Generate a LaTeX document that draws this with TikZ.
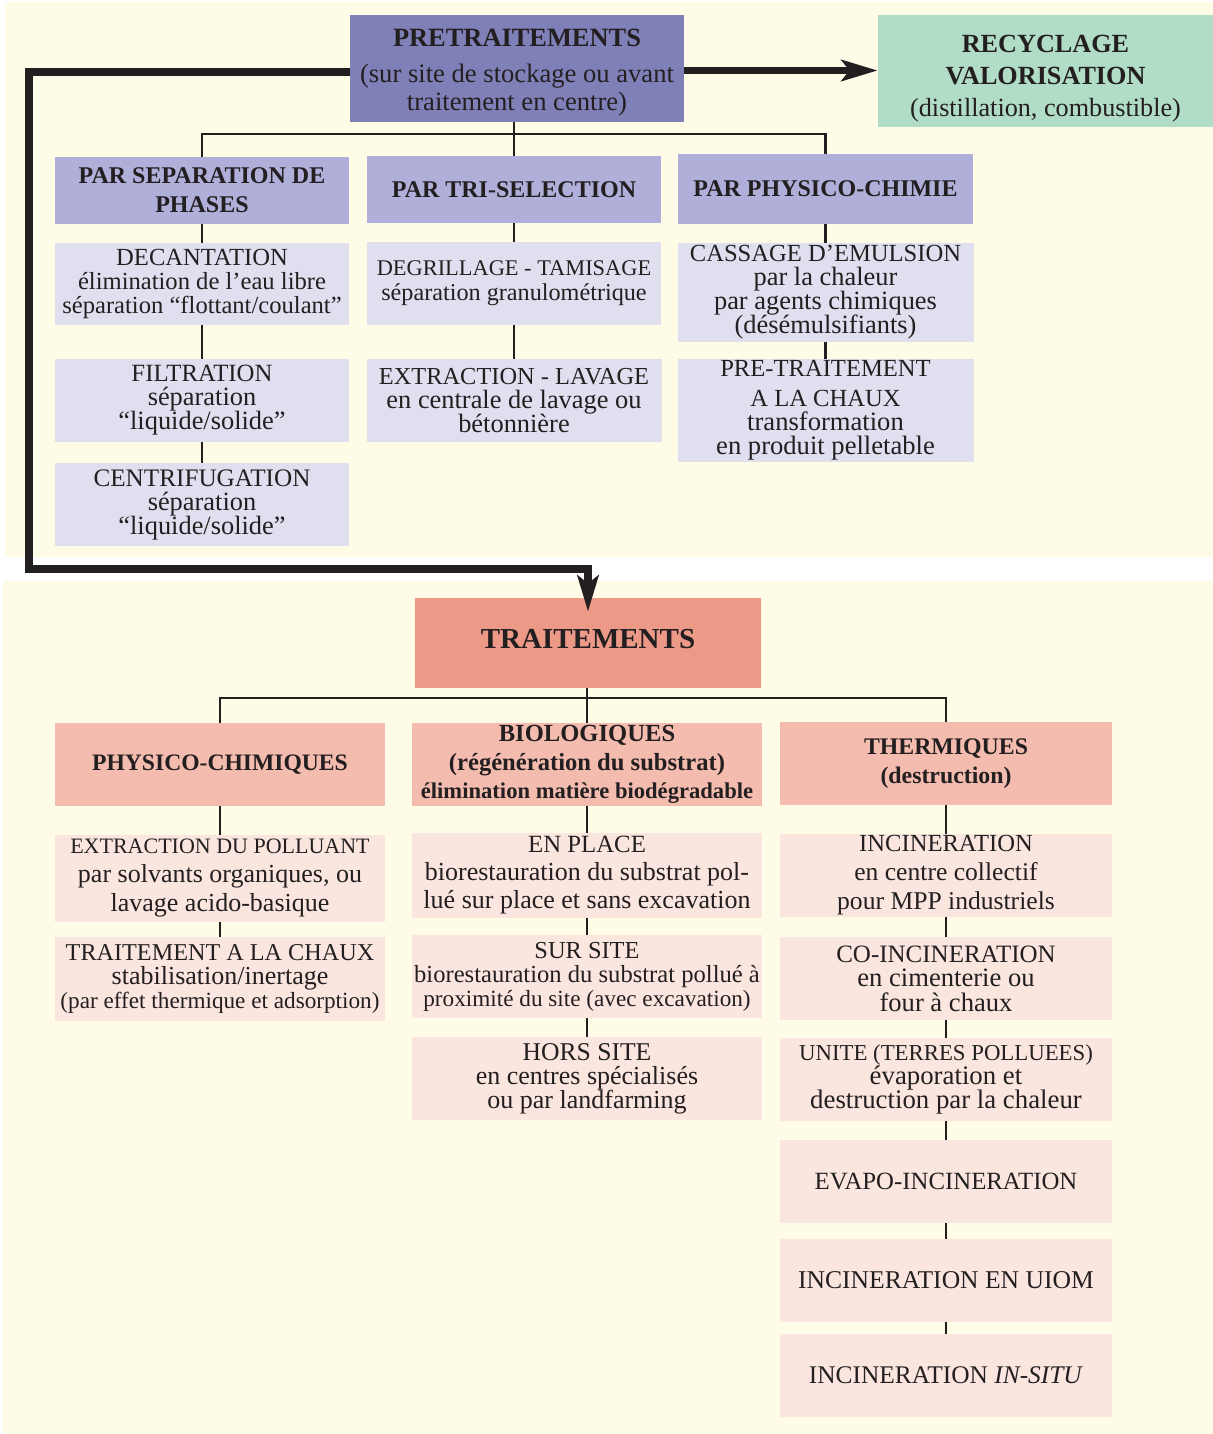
\documentclass[tikz,border=0pt]{standalone}
\usepackage{fontspec}
\setmainfont{Liberation Serif}
\usetikzlibrary{arrows.meta,calc}
\definecolor{cream}{HTML}{FEFCE7}
\definecolor{preC}{HTML}{8080B8}
\definecolor{recC}{HTML}{B1DCC5}
\definecolor{lavA}{HTML}{AFAFD9}
\definecolor{lavB}{HTML}{DFDFEF}
\definecolor{traC}{HTML}{EC9988}
\definecolor{salA}{HTML}{F3BCAE}
\definecolor{salB}{HTML}{FAE5DF}
\definecolor{ink}{HTML}{231F20}
\newcommand{\txs}[2]{{\fontsize{#1}{#1}\selectfont #2}}
\lineskiplimit=-100pt
\lineskip=0pt
\tikzset{
  box/.style 2 args={rectangle, inner sep=0pt, align=center, text=ink,
    minimum width=#1*0.5pt, minimum height=#2*0.5pt},
  conn/.style={draw=ink, line width=1.3pt},
  big/.style={draw=ink, line width=3.6pt, line join=miter},
  bigtip/.style={-{Stealth[length=18pt, width=10.5pt, inset=4pt]}},
}
\begin{document}
\begin{tikzpicture}[x=0.5pt, y=-0.5pt]
\useasboundingbox (0,0) rectangle (1213,1434);
% panels
\fill[cream] (5,2) rectangle (1213,557);
\fill[cream] (3,581) rectangle (1213,1434);

% ---------- top part ----------
\node[box={334}{107}, fill=preC,
  label={[anchor=center, yshift=-2pt, align=center, text=ink, inner sep=0pt, font=\fontsize{13.3}{14}\selectfont]center:{\txs{13.2}{\bfseries PRETRAITEMENTS}\\[4pt](sur site de stockage ou avant\\traitement en centre)}}]
  (pre) at (517,68.5) {};
\node[box={335}{112}, fill=recC,
  label={[anchor=center, yshift=-4pt, align=center, text=ink, inner sep=0pt, font=\fontsize{13.1}{16}\selectfont]center:{\textbf{RECYCLAGE}\\\textbf{VALORISATION}\\(distillation, combustible)}}]
  (rec) at (1045.5,71) {};

\node[box={294}{67}, fill=lavA, font=\bfseries\fontsize{12}{14.5}\selectfont] (r2a) at (202,190.5)
  {PAR SEPARATION DE\\PHASES};
\node[box={294}{67}, fill=lavA, font=\bfseries\fontsize{12}{14.5}\selectfont] (r2b) at (514,189.5)
  {PAR TRI-SELECTION};
\node[box={295}{70}, fill=lavA, font=\bfseries\fontsize{12}{14.5}\selectfont] (r2c) at (825.5,189)
  {PAR PHYSICO-CHIMIE};

\node[box={294}{82}, fill=lavB, font=\fontsize{12.3}{12}\selectfont] (dec) at (202,284)
  {DECANTATION\\élimination de l’eau libre\\séparation “flottant/coulant”};
\node[box={294}{83}, fill=lavB, font=\fontsize{12.1}{12.5}\selectfont] (deg) at (514,283.5)
  {\txs{11.2}{DEGRILLAGE - TAMISAGE}\\séparation granulométrique};
\node[box={296}{99}, fill=lavB, font=\fontsize{13.2}{12}\selectfont] (cas) at (825.5,292.5)
  {\txs{12.3}{CASSAGE D’EMULSION}\\par la chaleur\\par agents chimiques\\(désémulsifiants)};

\node[box={294}{83}, fill=lavB, font=\fontsize{13.2}{12}\selectfont] (fil) at (202,400.5)
  {\txs{12.4}{FILTRATION}\\séparation\\“liquide/solide”};
\node[box={295}{83}, fill=lavB, font=\fontsize{13.2}{12.2}\selectfont] (ext) at (514,400.5)
  {\txs{12.2}{EXTRACTION - LAVAGE}\\en centrale de lavage ou\\bétonnière};
\node[box={296}{103}, fill=lavB, font=\fontsize{13.3}{12.2}\selectfont] (pch) at (825.5,410.5)
  {\txs{12.3}{PRE-TRAITEMENT}\\[2.5pt]\txs{12.3}{A LA CHAUX}\\transformation\\en produit pelletable};

\node[box={294}{83}, fill=lavB, font=\fontsize{13.2}{12}\selectfont] (cen) at (202,504.5)
  {\txs{12.6}{CENTRIFUGATION}\\séparation\\“liquide/solide”};

% top connectors
\coordinate (bA) at (514,134);
\draw[conn] (pre.south -| bA) -- (bA);
\draw[conn] (r2a.north) |- (bA) -| (r2c.north);
\draw[conn] (bA) -- (r2b.north);
\draw[conn] (r2a.south) -- (dec.north);
\draw[conn] (dec.south) -- (fil.north);
\draw[conn] (fil.south) -- (cen.north);
\draw[conn] (r2b.south) -- (deg.north);
\draw[conn] (deg.south) -- (ext.north);
\draw[conn] (r2c.south) -- (cas.north);
\draw[conn] (cas.south) -- (pch.north);

% ---------- bottom part ----------
\node[box={346}{90}, fill=traC,
  label={[anchor=center, yshift=2pt, text=ink, inner sep=0pt, font=\bfseries\fontsize{14.5}{16}\selectfont]center:TRAITEMENTS}]
  (tra) at (588,643) {};

\node[box={330}{83}, fill=salA, font=\bfseries\fontsize{11.8}{14}\selectfont] (phy) at (220,764.5)
  {PHYSICO-CHIMIQUES};
\node[box={350}{83}, fill=salA, font=\bfseries\fontsize{12.3}{14.3}\selectfont] (bio) at (587,764.5)
  {BIOLOGIQUES\\(régénération du substrat)\\\txs{11.3}{élimination matière biodégradable}};
\node[box={332}{83}, fill=salA, font=\bfseries\fontsize{11.9}{14.5}\selectfont] (the) at (946,763.5)
  {THERMIQUES\\(destruction)};

\node[box={330}{87}, fill=salB, font=\fontsize{13}{14.5}\selectfont] (epl) at (220,878.5)
  {\txs{11}{EXTRACTION DU POLLUANT}\\par solvants organiques, ou\\lavage acido-basique};
\node[box={330}{84}, fill=salB, font=\fontsize{13}{12}\selectfont] (tch) at (220,979)
  {\txs{12.1}{TRAITEMENT A LA CHAUX}\\stabilisation/inertage\\\txs{11.6}{(par effet thermique et adsorption)}};

\node[box={350}{85}, fill=salB, font=\fontsize{13}{14}\selectfont] (enp) at (587,875.5)
  {\txs{12.4}{EN PLACE}\\biorestauration du substrat pol-\\lué sur place et sans excavation};
\node[box={350}{83}, fill=salB, font=\fontsize{12.3}{12}\selectfont] (ssi) at (587,976.5)
  {\txs{12.2}{SUR SITE}\\biorestauration du substrat pollué à\\\txs{11.6}{proximité du site (avec excavation)}};
\node[box={350}{83}, fill=salB, font=\fontsize{13}{12}\selectfont] (hor) at (587,1078.5)
  {\txs{12.8}{HORS SITE}\\en centres spécialisés\\ou par landfarming};

\node[box={332}{83}, fill=salB, font=\fontsize{12.8}{14.5}\selectfont] (inc) at (946,875.5)
  {\txs{12.3}{INCINERATION}\\en centre collectif\\pour MPP industriels};
\node[box={332}{83}, fill=salB, font=\fontsize{13.3}{12.3}\selectfont] (coi) at (946,978.5)
  {\txs{12.5}{CO-INCINERATION}\\en cimenterie ou\\four à chaux};
\node[box={332}{83}, fill=salB, font=\fontsize{13.4}{12}\selectfont] (uni) at (946,1079.5)
  {\txs{11.4}{UNITE (TERRES POLLUEES)}\\évaporation et\\destruction par la chaleur};
\node[box={332}{83}, fill=salB, font=\fontsize{12.4}{12}\selectfont] (eva) at (946,1181.5)
  {EVAPO-INCINERATION};
\node[box={332}{83}, fill=salB, font=\fontsize{12.8}{12}\selectfont] (uio) at (946,1280.5)
  {INCINERATION EN UIOM};
\node[box={332}{83}, fill=salB, font=\fontsize{12.7}{12}\selectfont] (ins) at (946,1375.5)
  {INCINERATION \textit{IN-SITU}};

% bottom connectors
\coordinate (bB) at (587,698);
\draw[conn] (tra.south -| bB) -- (bB);
\draw[conn] (phy.north) |- (bB) -| (the.north);
\draw[conn] (bB) -- (bio.north);
\draw[conn] (phy.south) -- (epl.north);
\draw[conn] (epl.south) -- (tch.north);
\draw[conn] (bio.south) -- (enp.north);
\draw[conn] (enp.south) -- (ssi.north);
\draw[conn] (ssi.south) -- (hor.north);
\draw[conn] (the.south) -- (inc.north);
\draw[conn] (inc.south) -- (coi.north);
\draw[conn] (coi.south) -- (uni.north);
\draw[conn] (uni.south) -- (eva.north);
\draw[conn] (eva.south) -- (uio.north);
\draw[conn] (uio.south) -- (ins.north);

% ---------- thick arrows ----------
\coordinate (ra) at ([yshift=-1pt]pre.east);
\draw[big, bigtip] (ra) -- (ra -| rec.west);
\coordinate (la) at ([yshift=-1.75pt]pre.west);
\coordinate (c2) at (29,569);
\draw[big, bigtip] (la) -| (c2) -| ([yshift=-7pt]tra.north);
\end{tikzpicture}
\end{document}
